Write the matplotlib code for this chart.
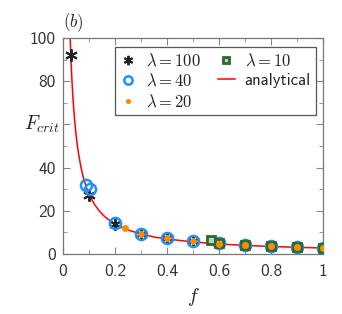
import matplotlib
matplotlib.use("Agg")
import matplotlib.pyplot as plt
from matplotlib.ticker import MultipleLocator

plt.rcParams['font.family'] = ['cmss10', 'DejaVu Sans']
plt.rcParams['mathtext.fontset'] = 'cm'
plt.rcParams['axes.unicode_minus'] = False
plt.rcParams['axes.formatter.use_mathtext'] = False

# analytical curve
f_curve = [0.028, 0.03, 0.033, 0.036, 0.04, 0.045, 0.05, 0.055, 0.06, 0.07, 0.08, 0.09, 0.1,
           0.12, 0.14, 0.16, 0.18, 0.2, 0.25, 0.3, 0.35, 0.4, 0.5, 0.6, 0.7, 0.8, 0.9, 1.0]
F_curve = [100, 93, 84.5, 77.5, 69.8, 62, 55.8, 50.7, 46.5, 39.8, 34.8, 30.9, 27.8,
           23.2, 19.9, 17.4, 15.5, 13.9, 11.1, 9.3, 7.9, 6.95, 5.6, 4.65, 4.0, 3.5, 3.1, 2.8]

f_100 = [0.03, 0.1, 0.2, 0.3, 0.4, 0.5, 0.6, 0.7, 0.8, 0.9, 1.0]
F_100 = [92, 27.5, 14, 9.5, 7.3, 5.9, 5.0, 4.3, 3.7, 3.3, 3.0]
f_40 = [0.09, 0.105, 0.2, 0.3, 0.4, 0.5, 0.6, 0.7, 0.8, 0.9, 1.0]
F_40 = [32, 30, 14.5, 9.5, 7.3, 5.9, 4.9, 4.3, 3.7, 3.3, 3.0]
f_20 = [0.24, 0.3, 0.4, 0.5, 0.6, 0.7, 0.8, 0.9, 1.0]
F_20 = [12, 9.3, 7.2, 5.8, 4.8, 4.2, 3.6, 3.2, 2.9]
f_10 = [0.57, 0.6, 0.7, 0.8, 0.9, 1.0]
F_10 = [6.5, 5.0, 4.3, 3.7, 3.3, 3.0]

x_ticks = [0, 0.2, 0.4, 0.6, 0.8, 1.0]
x_ticklabels = ['0', '0.2', '0.4', '0.6', '0.8', '1']
y_ticks = [0, 20, 40, 60, 80, 100]
y_ticklabels = ['0', '20', '40', '', '80', '100']

fig = plt.figure(figsize=(3.42, 3.14), dpi=100)
ax = fig.add_axes([0.184, 0.191, 0.76, 0.688])

ax.plot(f_100, F_100, linestyle='none', marker=(6, 2, 0), markersize=9,
        color='#222222', markeredgewidth=1.4, label=r'$\lambda = \mathsf{100}$', zorder=3)
ax.plot(f_40, F_40, linestyle='none', marker='o', markersize=8, markerfacecolor='none',
        markeredgecolor='#1e90ff', markeredgewidth=1.8, label=r'$\lambda = \mathsf{40}$', zorder=4)
ax.plot(f_10, F_10, linestyle='none', marker='s', markersize=6, markerfacecolor='#b8d4b8',
        markeredgecolor='#2a6a2a', markeredgewidth=2.0, label=r'$\lambda = \mathsf{10}$', zorder=5)
ax.plot(f_20, F_20, linestyle='none', marker='o', markersize=5, color='#ff8c00',
        markeredgewidth=0, label=r'$\lambda = \mathsf{20}$', zorder=6)
ax.plot(f_curve, F_curve, color='#ff0000', linewidth=1.1, label='analytical', zorder=2)

ax.set_xlim(0, 1)
ax.set_ylim(0, 100)
ax.set_xticks(x_ticks)
ax.set_xticklabels(x_ticklabels)
ax.set_yticks(y_ticks)
ax.set_yticklabels(y_ticklabels)
ax.xaxis.set_minor_locator(MultipleLocator(0.1))
ax.yaxis.set_minor_locator(MultipleLocator(10))
ax.tick_params(which='both', direction='in', top=True, right=True, color='#888888',
               labelsize=12.5, labelcolor='#333333')
ax.tick_params(which='major', length=5)
ax.tick_params(which='minor', length=3)
ax.tick_params(axis='x', pad=7)
ax.tick_params(axis='y', pad=5)
for s in ax.spines.values():
    s.set_color('#777777')
    s.set_linewidth(0.9)

ax.set_xlabel(r'$f$', fontsize=14, color='#222222', labelpad=5)
ax.set_ylabel(r'$F_{crit}$', fontsize=14, color='#222222', rotation=0,
              ha='right', va='center')
ax.yaxis.set_label_coords(-0.012, 0.6)
fig.text(0.185, 0.915, r'$(b)$', fontsize=12, color='#222222')

handles, labels = ax.get_legend_handles_labels()
order = [0, 1, 3, 2, 4]
leg = ax.legend([handles[i] for i in order], [labels[i] for i in order], ncol=2,
                loc='upper right', bbox_to_anchor=(0.973, 0.958), borderaxespad=0,
                fontsize=12, fancybox=False, edgecolor='#555555', framealpha=1,
                handlelength=1.0, handletextpad=0.6, columnspacing=1.0,
                borderpad=0.3, labelspacing=0.25, markerscale=0.75)
leg.get_frame().set_linewidth(0.9)
for t in leg.get_texts():
    t.set_color('#222222')

fig.savefig('out.png', dpi=100)
